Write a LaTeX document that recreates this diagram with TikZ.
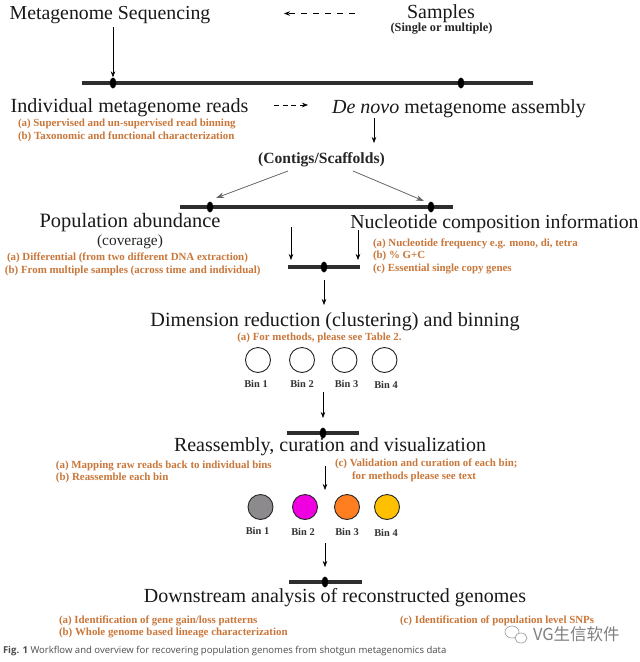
\documentclass[tikz,border=0pt]{standalone}
\usepackage{fontspec}
\setmainfont{Liberation Serif}
\newfontfamily\capfont{Open Sans}
\newfontfamily\cjkfont{Noto Sans CJK SC}
\usetikzlibrary{arrows.meta,shapes.geometric}
\definecolor{orangetxt}{HTML}{C9773A}
\definecolor{barcol}{HTML}{2E2E2E}
\tikzset{
  x=1pt,y=-1pt,
  txt/.style={inner sep=0pt,outer sep=0pt,anchor=mid,align=left},
  head/.style={txt,yshift=-4pt,font=\fontsize{20}{22}\selectfont,text=black!90},
  sub/.style={txt,yshift=-2pt,font=\fontsize{15.6}{17}\selectfont\bfseries,text=black!85},
  note/.style={txt,anchor=mid west,yshift=-2.5pt,font=\fontsize{10.9}{12}\selectfont\bfseries,text=orangetxt},
  binlab/.style={txt,yshift=-2pt,font=\fontsize{10.4}{12}\selectfont\bfseries,text=black!80},
  bar/.style={line width=3.4pt,draw=barcol},
  dot/.style={ellipse,fill=black,inner sep=0pt,minimum width=6.5pt,minimum height=11pt},
  arr/.style={-{Stealth[length=6pt,width=4.5pt]},line width=0.6pt,draw=black},
  greyarr/.style={-{Stealth[length=8pt,width=5.5pt]},line width=0.8pt,draw=black!60},
  dasharr/.style={arr,dash pattern=on 6pt off 6pt},
  bin/.style={circle,draw=black!85,line width=0.9pt,minimum size=25pt,inner sep=0pt},
}
\begin{document}
\begin{tikzpicture}
\useasboundingbox[fill=white] (0,0) rectangle (640,662);

% top
\node[head,font=\fontsize{19.8}{22}\selectfont] (ms) at (110,13) {Metagenome Sequencing};
\node[head] (samples) at (441,12) {Samples};
\node[sub,font=\fontsize{12.3}{14}\selectfont\bfseries] (single) at (441.5,27.5) {(Single or multiple)};
\coordinate (ba) at (82,83); \coordinate (bb) at (533,83);
\draw[bar] (ba) -- (bb);
\node[dot] (d1) at (113,83) {};
\node[dot] (d2) at (461,83) {};
\coordinate (dsa) at (355,13.5); \coordinate (dsb) at (284,13.5);
\draw[dasharr] (dsa) -- (dsb);
\coordinate (msb) at (113,27);
\draw[arr] (msb) -- (d1.north);

% reads / assembly
\node[head,font=\fontsize{20.1}{22}\selectfont] (reads) at (129.5,106) {Individual metagenome reads};
\node[head] (denovo) at (459,107) {\textit{De novo} metagenome assembly};
\coordinate (dra) at (274,105); \coordinate (drb) at (308,105);
\draw[arr,dash pattern=on 5pt off 3.5pt] (dra) -- (drb);
\node[note] (r1) at (18,122) {(a) Supervised and un-supervised read binning};
\node[note] (r2) at (18,135) {(b) Taxonomic and functional characterization};
\node[sub] (contigs) at (321.5,159) {(Contigs/Scaffolds)};
\coordinate (ca) at (374,118); \coordinate (cb) at (374,143);
\draw[arr] (ca) -- (cb);

% population bar
\coordinate (pa) at (180,207); \coordinate (pb) at (453,207);
\draw[bar] (pa) -- (pb);
\node[dot] (d3) at (210,207) {};
\node[dot] (d4) at (431,207) {};
\coordinate (ga) at (288,171); \coordinate (gb) at (353,171);
\coordinate (gla) at (216,198); \coordinate (glb) at (424,201);
\draw[greyarr] (ga) -- (gla);
\draw[greyarr] (gb) -- (glb);

\node[head,font=\fontsize{20.4}{22}\selectfont] (pop) at (130,221) {Population abundance};
\node[txt,yshift=-3pt,font=\fontsize{15.4}{17}\selectfont,text=black!85] (cov) at (130,240) {(coverage)};
\node[note] (p1) at (7,256) {(a) Differential (from two different DNA extraction)};
\node[note] (p2) at (5,269) {(b) From multiple samples (across time and individual)};
\node[head,font=\fontsize{19.8}{22}\selectfont] (nuc) at (494.5,222) {Nucleotide composition information};
\node[note] (n1) at (373,242) {(a) Nucleotide frequency e.g. mono, di, tetra};
\node[note] (n2) at (373,254) {(b) \% G+C};
\node[note] (n3) at (373,267) {(c) Essential single copy genes};

% merge bar
\coordinate (ma) at (288,267); \coordinate (mb) at (360,267);
\draw[bar] (ma) -- (mb);
\node[dot] (d5) at (324,267) {};
\coordinate (ia) at (291,227); \coordinate (ib) at (291,260);
\coordinate (ic) at (358,230); \coordinate (id) at (358,260);
\draw[arr] (ia) -- (ib);
\draw[arr] (ic) -- (id);
\coordinate (ds) at (324,280); \coordinate (dr) at (324,305);
\draw[arr] (ds) -- (dr);

% dimension reduction
\node[head,font=\fontsize{20.2}{22}\selectfont] (dim) at (335,320) {Dimension reduction (clustering) and binning};
\node[note,anchor=mid] (dm) at (319.5,336) {(a) For methods, please see Table 2.};
\node[bin] (b1) at (258,360) {};
\node[bin] (b2) at (302,360) {};
\node[bin] (b3) at (344.5,360) {};
\node[bin] (b4) at (384.5,360) {};
\node[binlab] (l1) at (256,383) {Bin 1};
\node[binlab] (l2) at (302,383.5) {Bin 2};
\node[binlab] (l3) at (346.5,383.5) {Bin 3};
\node[binlab] (l4) at (386,384) {Bin 4};

% reassembly
\coordinate (ra) at (286.5,433); \coordinate (rb) at (359,433);
\draw[bar] (ra) -- (rb);
\node[dot] (d6) at (323,433) {};
\coordinate (ea) at (323,392); \coordinate (eb) at (323,418);
\draw[arr] (ea) -- (eb);
\node[head] (re) at (330,445) {Reassembly, curation and visualization};
\node[note] (e1) at (56,464) {(a) Mapping raw reads back to individual bins};
\node[note] (e2) at (56,476) {(b) Reassemble each bin};
\node[note] (e3) at (335,462) {(c) Validation and curation of each bin;};
\node[note] (e4) at (352,475) {for methods please see text};
\coordinate (fa) at (325,466); \coordinate (fb) at (325,490);
\draw[arr] (fa) -- (fb);
\node[bin,fill={rgb,255:red,140;green,138;blue,140}] (c1) at (260.5,507) {};
\node[bin,fill={rgb,255:red,240;green,0;blue,225}] (c2) at (305,507) {};
\node[bin,fill={rgb,255:red,255;green,127;blue,32}] (c3) at (347,507) {};
\node[bin,fill={rgb,255:red,255;green,192;blue,0}] (c4) at (387,507) {};
\node[binlab] (k1) at (257.5,530) {Bin 1};
\node[binlab] (k2) at (303,531) {Bin 2};
\node[binlab] (k3) at (347,531) {Bin 3};
\node[binlab] (k4) at (386,532) {Bin 4};

% downstream
\coordinate (ta) at (289,582); \coordinate (tb) at (362,582);
\draw[bar] (ta) -- (tb);
\node[dot] (d7) at (325,582) {};
\coordinate (ga2) at (325,543); \coordinate (gb2) at (325,567);
\draw[arr] (ga2) -- (gb2);
\node[head] (down) at (335,596) {Downstream analysis of reconstructed genomes};
\node[note] (t1) at (59,619) {(a) Identification of gene gain/loss patterns};
\node[note] (t2) at (59,631) {(b) Whole genome based lineage characterization};
\node[note] (t3) at (400,619) {(c) Identification of population level SNPs};

% watermark and caption
\begin{scope}[draw=black!35,line width=0.7pt]
  \draw[fill=white] (512,632) ellipse (7pt and 6pt);
  \draw[fill=white] (521,638) ellipse (6pt and 5pt);
\end{scope}
\node[txt,anchor=mid west,yshift=-4pt,font=\fontsize{16.5}{18}\selectfont\cjkfont,text=black!50] (wm) at (533,634) {VG生信软件};
\node[txt,anchor=mid west,yshift=-1pt,font=\fontsize{9.55}{11}\selectfont\capfont,text=black!70] (cap) at (3,650) {\textbf{Fig. 1} Workflow and overview for recovering population genomes from shotgun metagenomics data};
\end{tikzpicture}
\end{document}
